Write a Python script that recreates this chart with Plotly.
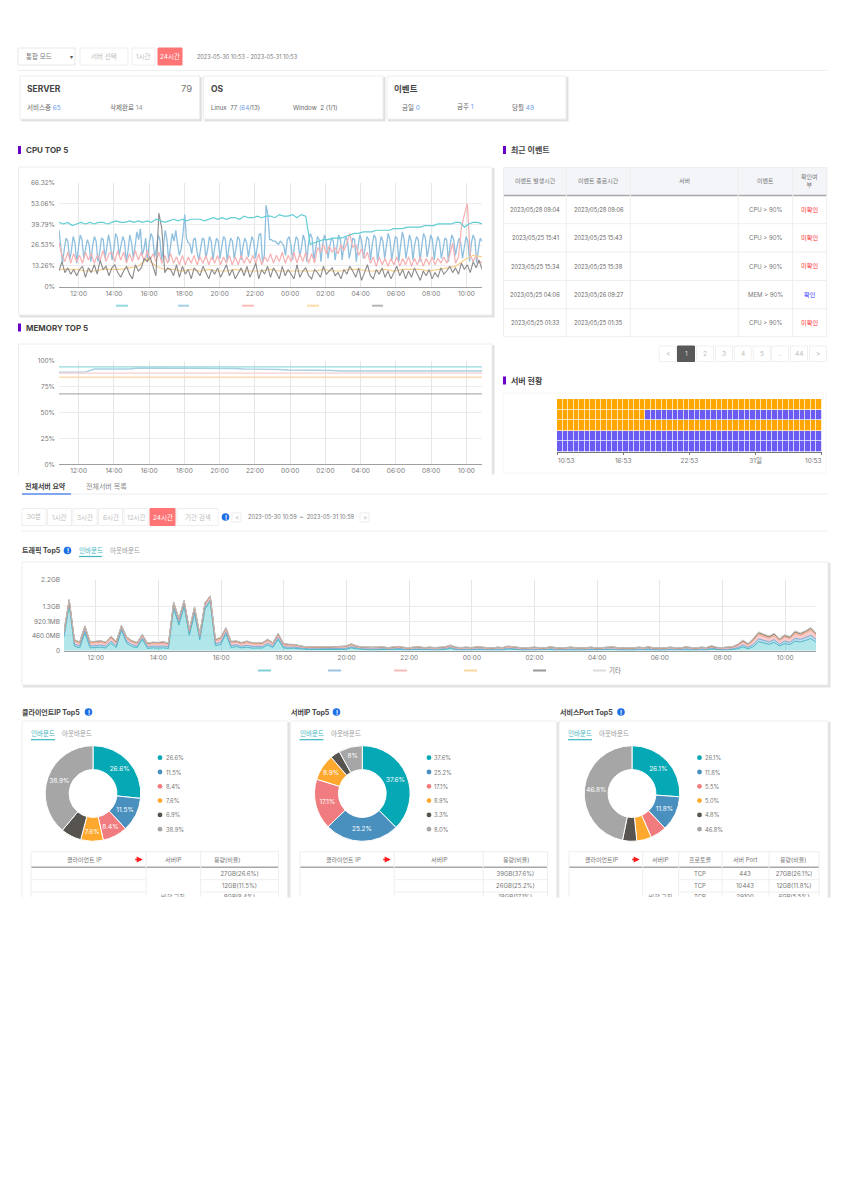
import pandas as pd
import plotly.graph_objects as go

W = 843
H = 1193
FONT = "Inter, 'Noto Sans CJK KR', sans-serif"

# CPU TOP 5 (percent), each series sampled on its own even grid over the 24 hours
cpu_teal = [41,40,41,39, 40,41,40,41, 40,41,41,40, 41,42,41,41, 42,41,42,41, 42,41,43,42,
            41,42,43,42, 43,42,43,43, 43,42,43,44, 43,44,43,44, 44,43,45,44, 44,45,44,45,
            45,44,46,45, 45,46,44,46, 45,27,28,29, 30,30,31,31, 31,32,33,34, 34,35,35,35,
            36,36,36,36, 37,37,37,38, 38,38,38,39, 39,39,40,40, 40,40,41,41, 38,40,41,41, 40]
cpu_blue = [36,24,15,24,31,29,17,23,32,28,
            15,25,33,30,18,24,30,27,16,26,
            32,29,16,22,31,30,18,25,33,27,
            17,24,34,31,20,26,32,29,16,23,
            33,28,18,26,35,30,37,20,24,31,
            16,28,34,31,19,24,33,30,17,25,
            36,30,16,26,34,29,36,27,20,24,
            33,46,31,28,27,21,30,31,22,17,
            25,31,30,18,24,32,29,17,25,31,
            29,18,26,32,30,16,25,31,29,18,
            24,32,30,17,26,31,28,19,26,32,
            29,18,25,33,34,15,20,52,46,30,
            30,29,29,28,27,29,28,26,20,30,
            32,27,17,26,32,30,19,25,33,29,
            16,28,34,31,17,24,32,30,16,27,
            33,29,18,26,31,29,17,25,33,30,
            17,27,32,29,18,24,31,30,16,26,
            33,29,18,25,32,30,17,27,33,31,
            16,25,32,29,18,26,34,30,17,24,
            32,31,16,26,35,30,18,25,33,29,
            17,27,32,30,16,26,34,31,19,25,
            33,30,17,26,32,29,18,24,31,30,
            16,27,33,30,20,26,31,28,18,25,
            32,29,16,28,33,30,15,24,31,29]
cpu_pink = [28,20,16,22,15,21, 16,20,15,22,17,21, 15,20,17,23,16,21, 22,16,23,17,22,15,
            21,16,23,17,22,16, 23,17,21,16,22,15, 20,15,21,15,19,14, 20,14,19,15,20,14,
            19,15,20,14,19,15, 20,14,19,15,20,14, 19,14,20,15,19,15, 20,15,21,14,19,16,
            21,15,20,16,22,15, 20,16,22,15,21,16, 22,15,21,15,25,22, 27,21,26,22,25,21,
            27,23,28,34,25,27, 20,24,18,22,15,19, 13,19,14,18,13,18, 14,19,13,18,14,19,
            13,18,14,19,13,18, 14,19,14,18,15,19, 15,20,28,15,19,38, 46,53,20,16,20,15, 16]
cpu_orange = [11,11,11,10,10,11,11,11,12,13,
              18,13,11,11,10,11,10,11,10,10,
              11,10,10,10,11,10,10,10,10,10,
              11,10,10,11,11,10,10,11,10,11,
              11,11,10,11,12,13,17,20,19]
cpu_grey = [10,16,9,12,8,11, 7,11,13,6,12,9, 14,8,17,11,13,7, 12,14,9,6,10,13,
            8,5,14,10,12,18, 16,19,13,7,47,37, 9,12,11,7,14,6, 13,8,11,5,12,10,
            7,13,9,5,11,8, 12,6,10,14,7,11, 5,9,12,7,13,6, 10,15,5,11,8,13,
            6,12,9,5,13,7, 11,8,5,14,6,10, 12,7,5,11,9,6, 13,8,10,12,7,9,
            5,11,8,13,10,6, 12,4,9,14,7,5, 11,8,12,6,10,5, 9,13,7,11,5,10,
            6,12,8,4,10,7, 11,5,9,6,12,8, 10,13,9,12,8,15, 11,14,9,16,12,17, 11]
cpu_ticks = [0, 13.26, 26.53, 39.79, 53.06, 66.32]
cpu_tick_text = ["0%", "13.26%", "26.53%", "39.79%", "53.06%", "66.32%"]

# MEMORY TOP 5 (percent)
mem_teal = [94,94,94,94,94,94,94,94,94,94,94,94,94]
mem_blue = [89,89,89,89,92,92,92,92,92,93,93,93,93,93,93,93,93,93,92.5,92.5,92.5,92,92,92,91.5,91.5,
            91,91,91,90.5,90.5,90.5,90,90,90,90,90,90,90,90,90,90,90,90,90,90,90,90,90]
mem_pink = [88,88,88,88,88,88,88,88,88,88,88,88,88]
mem_orange = [84,84,84,84,84,84,84,84,84,84,84,84,84]
mem_grey = [68,68,68,68,68,68,68,68,68,68,68,68,68]
mem_ticks = [0, 25, 50, 75, 100]

# 서버 현황 (1 = orange, 2 = purple), top row first
status_rows = [
    [1] * 48,
    [1] * 16 + [2] * 32,
    [1] * 48,
    [2] * 48,
    [2] * 48,
]
status_ticks = [-0.5, 11.5, 23.5, 35.5, 47.5]
status_labels = ["", "16:53", "22:53", "31일", ""]

# 트래픽 Top5 (MB), 10 minute steps
in_teal = [430,1430,140,90,560,90, 100,110,85,230,100,640, 240,130,90,350,70,90,
           80,90,70,1330,800,1380, 480,1150,340,1300,1530,160, 190,520,100,130,90,110,
           80,90,85,180,100,350, 90,70,80,60,40,35, 40,35,45,40,30,35,
           45,90,60,40,35,30, 35,40,30,35,45,30, 25,35,40,30,35,30,
           30,40,75,35,30,35, 30,40,35,30,25,35, 30,55,40,30,25,30,
           35,30,25,40,30,25, 30,35,30,25,30,35, 25,30,35,40,30,25,
           30,25,35,30,40,25, 30,25,35,30,25,40, 30,25,35,30,50,30,
           30,25,35,60,120,60, 130,280,240,200,260,150, 220,190,300,270,320,380, 270]
in_blue = [60,50,65,60,70,65, 60,65,60,70,60,45, 60,60,55,50,50,55,
           55,60,50,60,70,60, 60,70,60,60,55,60, 70,60,60,55,50,60,
           55,50,50,55,45,60, 40,40,35,30,25,25, 20,25,20,20,25,25,
           30,35,25,20,20,18, 20,22,18,20,25,20, 18,20,22,18,20,18,
           18,22,28,20,18,20, 18,22,20,18,15,20, 18,24,22,18,15,18,
           20,18,15,22,18,15, 18,20,18,15,18,20, 15,18,20,22,18,15,
           18,15,20,18,22,15, 18,15,20,18,15,22, 20,15,20,18,25,20,
           18,20,25,40,60,45, 70,90,80,75,85,60, 80,70,90,85,95,100, 90]
in_pink = [80,75,85,80,90,80, 80,85,75,90,80,60, 80,75,70,65,70,75,
           75,80,70,80,85,80, 85,90,80,85,80,80, 95,85,80,75,70,80,
           75,70,70,75,60,80, 60,55,50,45,40,40, 35,40,35,35,40,38,
           45,55,40,35,35,30, 35,35,30,35,40,35, 30,35,35,30,35,30,
           30,35,42,35,30,35, 30,35,35,30,28,35, 30,38,35,30,28,30,
           35,30,28,35,30,28, 30,35,30,28,30,35, 28,30,35,35,30,28,
           30,28,35,30,35,28, 30,28,35,30,28,35, 30,28,35,30,40,32,
           30,35,40,60,90,70, 110,130,120,110,120,100, 120,110,140,120,130,150, 120]
in_orange = [35,30,35,32,38,35, 35,38,32,38,35,28, 35,32,30,28,30,32,
             32,35,30,35,38,35, 35,40,35,38,35,35, 40,38,35,32,30,35,
             32,30,30,32,28,35, 28,25,22,20,18,18, 15,18,15,15,18,16,
             20,25,18,15,15,14, 15,16,14,15,18,15, 14,15,16,14,15,14,
             14,16,20,15,14,15, 14,16,15,14,13,15, 14,18,16,14,13,14,
             15,14,13,16,14,13, 14,15,14,13,14,15, 13,14,15,16,14,13,
             14,13,15,14,16,13, 14,13,15,14,13,16, 14,13,15,14,18,15,
             14,16,18,25,35,30, 40,45,42,40,42,35, 40,38,45,42,45,50, 42]
in_grey = [12,10,12,10,14,12, 12,12,10,14,12,10, 12,12,10,10,10,12,
           12,12,10,12,14,12, 12,14,12,12,10,12, 14,12,12,10,10,12,
           10,10,10,12,10,12, 8,8,7,6,6,6, 5,6,5,5,6,6,
           7,8,6,5,5,5, 5,6,5,5,6,5, 5,5,6,5,5,5,
           5,6,7,5,5,5, 5,6,5,5,4,5, 5,6,5,5,4,5,
           5,5,4,6,5,4, 5,5,5,4,5,5, 4,5,5,6,5,4,
           5,4,5,5,6,4, 5,4,5,5,4,6, 5,4,5,5,6,5,
           5,5,6,8,10,8, 12,14,12,12,12,10, 12,11,14,12,14,15, 12]
in_etc = [8,6,8,7,9,8, 8,8,7,9,8,6, 8,8,7,6,7,8,
          8,8,7,8,9,8, 8,9,8,8,7,8, 9,8,8,7,7,8,
          7,7,7,8,6,8, 6,5,5,4,4,4, 4,4,4,4,4,4,
          5,5,4,4,4,3, 4,4,3,4,4,4, 3,4,4,3,4,3,
          3,4,5,4,3,4, 3,4,4,3,3,4, 3,4,4,3,3,3,
          4,3,3,4,3,3, 3,4,3,3,3,4, 3,3,4,4,3,3,
          3,3,4,3,4,3, 3,3,4,3,3,4, 3,3,4,3,25,6,
          3,4,6,10,20,15, 25,30,28,25,30,20, 35,25,35,30,30,35, 25]
traffic_ticks = [0, 460, 920.1, 1380, 2208]
traffic_tick_text = ["0", "460.0MB", "920.1MB", "1.3GB", "2.2GB"]

# donuts
pie_colors = ["#05a8b5", "#4a90bf", "#f07c7f", "#ffa82e", "#57534f", "#a6a6a6"]
client_vals = [26.6, 11.5, 8.4, 7.6, 6.9, 38.9]
client_labels = ["26.6%", "11.5%", "8.4%", "7.6%", "", "38.9%"]
client_legend = ["26.6%", "11.5%", "8.4%", "7.6%", "6.9%", "38.9%"]
server_vals = [37.6, 25.2, 17.1, 8.9, 3.3, 8.0]
server_labels = ["37.6%", "25.2%", "17.1%", "8.9%", "", "8%"]
server_legend = ["37.6%", "25.2%", "17.1%", "8.9%", "3.3%", "8.0%"]
port_vals = [26.1, 11.8, 5.5, 5.0, 4.8, 46.8]
port_labels = ["26.1%", "11.8%", "", "", "", "46.8%"]
port_legend = ["26.1%", "11.8%", "5.5%", "5.0%", "4.8%", "46.8%"]

# recent events table
event_starts = ["2023/05/28 09:04", "2023/05/25 15:41", "2023/05/25 15:34", "2023/05/25 04:06", "2023/05/25 01:33"]
event_ends = ["2023/05/28 09:06", "2023/05/25 15:43", "2023/05/25 15:38", "2023/05/26 09:27", "2023/05/25 01:35"]
event_names = ["CPU > 90%", "CPU > 90%", "CPU > 90%", "MEM > 90%", "CPU > 90%"]
event_checks = ["미확인", "미확인", "미확인", "확인", "미확인"]
pages = ["<", "1", "2", "3", "4", "5", "..", "44", ">"]

shapes = []
notes = []


def dx(a, b):
    return [a / W, b / W]


def dy(top, bottom):
    return [1 - bottom / H, 1 - top / H]


def txt(x, y, s, size=7, color="#666666", anchor="left"):
    # annotations carry about 2px of padding, take it back at the text edges
    shift = {"left": -2, "right": 2, "center": 0}[anchor]
    notes.append(dict(x=x / W, y=1 - y / H, xref="paper", yref="paper", text=s, showarrow=False, xshift=shift,
                      xanchor=anchor, yanchor="middle", font=dict(size=size, color=color, family=FONT)))


def rect(x0, y0, x1, y1, fill="#ffffff", line="rgba(0,0,0,0)", width=1):
    shapes.append(dict(type="rect", xref="paper", yref="paper", layer="below",
                       x0=x0 / W, x1=x1 / W, y0=1 - y0 / H, y1=1 - y1 / H,
                       fillcolor=fill, line=dict(color=line, width=width)))


def hline(x0, x1, y, color="#eeeeee", width=1):
    shapes.append(dict(type="line", xref="paper", yref="paper", layer="below",
                       x0=x0 / W, x1=x1 / W, y0=1 - y / H, y1=1 - y / H, line=dict(color=color, width=width)))


def vline(x, y0, y1, color="#eeeeee", width=1):
    shapes.append(dict(type="line", xref="paper", yref="paper", layer="below",
                       x0=x / W, x1=x / W, y0=1 - y0 / H, y1=1 - y1 / H, line=dict(color=color, width=width)))


def card(x0, y0, x1, y1):
    rect(x0 + 1, y0 + 1, x1 + 3, y1 + 3, fill="rgba(0,0,0,0.05)")
    rect(x0 + 1, y0 + 1, x1 + 2, y1 + 2, fill="rgba(0,0,0,0.07)")
    rect(x0, y0, x1, y1, fill="#ffffff", line="#eeeeee")


def button(x0, x1, y0, y1, label, active=False):
    if active:
        rect(x0, y0, x1, y1, fill="#ff7474", line="#ff7474")
        txt((x0 + x1) / 2, (y0 + y1) / 2, label, 6.5, "#ffffff", "center")
    else:
        rect(x0, y0, x1, y1, fill="#ffffff", line="#eeeeee")
        txt((x0 + x1) / 2, (y0 + y1) / 2, label, 6.5, "#bdbdbd", "center")


def heading(x, y, label):
    rect(x, y - 4, x + 3, y + 4, fill="#6a00c8")
    txt(x + 8, y, "<b>" + label + "</b>", 8, "#444444")


def info_dot(x, y):
    shapes.append(dict(type="circle", xref="paper", yref="paper", x0=(x - 3.8) / W, x1=(x + 3.8) / W,
                       y0=1 - (y - 3.8) / H, y1=1 - (y + 3.8) / H, fillcolor="#1f6fe5", line=dict(width=0)))
    txt(x, y, "<b>!</b>", 6, "#ffffff", "center")


def swatch(x0, x1, y, color):
    hline(x0, x1, y, color, 2)


def red_arrow(x, y):
    notes.append(dict(x=x / W, y=1 - y / H, xref="paper", yref="paper", ax=-9, ay=0, text="", showarrow=True,
                      arrowcolor="#ff1a1a", arrowwidth=1.5, arrowhead=2, arrowsize=0.8))


def series_x(values, start, end):
    return pd.date_range(start, end, periods=len(values))


fig = go.Figure()

# top controls
rect(18, 48, 75, 65, line="#e8e8e8")
txt(26, 56.5, "통합 모드", 6.5, "#777777")
txt(71, 57, "▾", 6, "#555555", "center")
button(80, 128, 48, 65, "서버 선택")
button(132, 155, 48, 65, "1시간")
button(158, 182, 48, 65, "24시간", True)
txt(197, 57, "2023-05-30 10:53 - 2023-05-31 10:53", 5.5, "#777777")
hline(18, 827, 70.5)

# summary cards
card(20, 76, 199.5, 119)
card(203.5, 76, 383, 119)
card(387, 76, 566, 119)
txt(27, 89, "<b>SERVER</b>", 8.5, "#444444")
txt(192, 89, "79", 9.5, "#777777", "right")
txt(27, 107, "서비스중 <span style='color:#6d9eeb'>65</span>", 6.5)
txt(110, 107, "삭제완료 <span style='color:#999999'>14</span>", 6.5)
txt(211, 89, "<b>OS</b>", 8.5, "#444444")
txt(211, 107, "Linux  77 <span style='color:#6d9eeb'>(64</span>/13)", 6.2)
txt(293, 107, "Window  2 (1/1)", 6.2)
txt(394, 89, "<b>이벤트</b>", 8.5, "#444444")
txt(402, 107, "금일 <span style='color:#6d9eeb'>0</span>", 6.5)
txt(457, 107, "금주 <span style='color:#6d9eeb'>1</span>", 6.5)
txt(512, 107, "당월 <span style='color:#6d9eeb'>49</span>", 6.5)

heading(18, 150, "CPU TOP 5")
heading(503, 150, "최근 이벤트")
heading(18, 327.5, "MEMORY TOP 5")
heading(503, 380.5, "서버 현황")

card(18.5, 167, 492, 315)
card(18.5, 344, 492, 478)
# the memory card runs under the lower dashboard, nothing of its bottom edge shows
rect(14, 474.5, 843, 484)

for x0, x1, c in [(116, 128, "#8fd8dd"), (178, 189, "#a8cfe8"), (242, 254, "#f8bcbc"), (307, 319, "#fcdca6"), (372, 383, "#b5b5b5")]:
    swatch(x0, x1, 305.7, c)

# CPU lines
start_cpu, end_cpu = "2023-05-30 10:53", "2023-05-31 10:53"
for vals, c, w in [(cpu_blue, "#8ebfdf", 1.3), (cpu_pink, "#f6b0b2", 1.2), (cpu_orange, "#f9cf8c", 1.2),
                   (cpu_grey, "#8a8a8a", 1.1), (cpu_teal, "#62cdd3", 1.2)]:
    fig.add_trace(go.Scatter(x=series_x(vals, start_cpu, end_cpu), y=vals, mode="lines", line=dict(color=c, width=w),
                             showlegend=False, xaxis="x", yaxis="y", cliponaxis=False))

# memory lines
for vals, c in [(mem_teal, "#93d9dd"), (mem_blue, "#a8cfe4"), (mem_pink, "#f9cfcf"), (mem_orange, "#fbdcb0"), (mem_grey, "#b0b0b0")]:
    fig.add_trace(go.Scatter(x=series_x(vals, start_cpu, end_cpu), y=vals, mode="lines", line=dict(color=c, width=1.4),
                             showlegend=False, xaxis="x2", yaxis="y2"))

# recent events table
col_x = [503.5, 566.3, 630.3, 738.3, 792.7, 826.7]
row_y = [195.5, 223.7, 252, 280.5, 308.7, 336.7]
rect(503.5, 167.5, 826.7, 195.5, fill="#f4f5f9", line="#eeeeee")
hline(503.5, 826.7, 195.5, "#a8a8a8", 1.4)
for y in row_y[1:]:
    hline(503.5, 826.7, y)
for x in col_x:
    vline(x, 167.5, 336.7)
for x, label in zip([535, 598.5, 684.5, 765.5], ["이벤트 발생시간", "이벤트 종료시간", "서버", "이벤트"]):
    txt(x, 181, label, 6, "#777777", "center")
txt(809.7, 181, "확인여<br>부", 6, "#777777", "center")
for i in range(5):
    y = (row_y[i] + row_y[i + 1]) / 2
    txt(535, y, event_starts[i], 5.7, "#666666", "center")
    txt(598.5, y, event_ends[i], 5.7, "#666666", "center")
    txt(765.5, y, event_names[i], 6, "#777777", "center")
    txt(809.7, y, event_checks[i], 6.2, "#3a3aff" if event_checks[i] == "확인" else "#ff2a2a", "center")

# pagination
for x, p in zip([667.7, 686, 705, 724, 742.7, 761.7, 780, 799, 818], pages):
    if p == "1":
        rect(x - 8.5, 346, x + 8.5, 361.5, fill="#595959", line="#595959")
        txt(x, 353.7, p, 6.5, "#dddddd", "center")
    else:
        rect(x - 8.5, 346, x + 8.5, 361.5, line="#f0f0f0")
        txt(x, 353.7, p, 6.5, "#bbbbbb", "center")

# server status heatmap
rect(503, 393, 826, 473, line="#f6f6f6")
fig.add_trace(go.Heatmap(z=status_rows, zmin=1, zmax=2, colorscale=[[0, "#ffa600"], [1, "#6a5cf2"]], showscale=False,
                         xgap=0.7, ygap=0.7, xaxis="x4", yaxis="y4"))
txt(557.7, 460.7, "10:53", 6.5, "#777777")
txt(821.7, 460.7, "10:53", 6.5, "#777777", "right")

# lower dashboard tabs and buttons
txt(25, 486, "<b>전체서버 요약</b>", 7, "#444444")
txt(86, 486, "전체서버 목록", 7, "#888888")
hline(22, 827, 494)
hline(22, 71, 494, "#5b8def", 1.5)
for x0, x1, label in [(22, 46, "30분"), (47.5, 71.5, "1시간"), (73, 97, "3시간"), (98.5, 122.5, "6시간"), (124, 148, "12시간"), (177, 218, "기간 검색")]:
    button(x0, x1, 508.5, 525.5, label)
button(150, 175, 508.5, 525.5, "24시간", True)
info_dot(225.5, 517)
button(232, 241, 513, 522, "<")
txt(247.5, 517, "2023-05-30 10:59  ~  2023-05-31 10:59", 5.6, "#777777")
button(360, 369, 513, 522, ">")
hline(22, 827, 531)
txt(22, 550.5, "<b>트래픽 Top5</b>", 7, "#444444")
info_dot(67.5, 550.5)
txt(79, 550, "인바운드", 6.5, "#3fb5c0")
hline(79, 102, 556.5, "#3fb5c0", 1.2)
txt(110, 550, "아웃바운드", 6.5, "#999999")

# traffic stacked area
card(22, 562, 828, 685)
start_in, end_in = "2023-05-30 10:59", "2023-05-31 10:59"
for vals, line_c, fill_c in [(in_teal, "#3fb5c0", "rgba(70,195,205,0.42)"), (in_blue, "#6fa8d0", "rgba(140,190,225,0.55)"),
                             (in_pink, "#f2a0a0", "rgba(248,190,190,0.75)"), (in_orange, "#e39a55", "rgba(252,205,150,0.8)"),
                             (in_grey, "#7d7d7d", "rgba(150,150,150,0.4)"), (in_etc, "#c8c8c8", "rgba(220,220,220,0.5)")]:
    fig.add_trace(go.Scatter(x=series_x(vals, start_in, end_in), y=vals, mode="lines", stackgroup="traffic",
                             line=dict(color=line_c, width=0.9), fillcolor=fill_c, showlegend=False, xaxis="x3", yaxis="y3"))
for x0, x1, c in [(258, 271, "#7fd0d6"), (328, 341, "#9cc3e0"), (394, 407, "#f8bcbc"), (464, 477, "#fcd6a0"), (533, 546, "#999999"), (593, 606, "#dddddd")]:
    swatch(x0, x1, 670.5, c)
txt(609, 670, "기타", 6.5, "#777777")

# donut panels
panels = [
    (22, 287.5, 22, "클라이언트IP Top5", 88.5, 93, 160, client_vals, client_labels, client_legend),
    (290.5, 556.7, 291, "서버IP Top5", 336.5, 362.3, 429, server_vals, server_labels, server_legend),
    (559, 828, 560, "서비스Port Top5", 621, 632, 699.5, port_vals, port_labels, port_legend),
]
for x0, x1, title_x, title, dot_x, cx, lx, vals, labels, legend in panels:
    txt(title_x, 712, "<b>" + title + "</b>", 7, "#444444")
    info_dot(dot_x, 712)
    card(x0, 721, x1, 900)
    txt(x0 + 9, 733.5, "인바운드", 6.5, "#3fb5c0")
    hline(x0 + 9, x0 + 33, 739.7, "#3fb5c0", 1.2)
    txt(x0 + 40, 733.5, "아웃바운드", 6.5, "#999999")
    r = 47.8
    fig.add_trace(go.Pie(values=vals, text=labels, textinfo="text", hole=0.5, sort=False, direction="clockwise",
                         textposition="inside", insidetextorientation="horizontal",
                         marker=dict(colors=pie_colors, line=dict(color="#ffffff", width=1)),
                         textfont=dict(size=6.5, color="#ffffff", family=FONT), showlegend=False,
                         domain=dict(x=dx(cx - r, cx + r), y=dy(793.5 - r, 793.5 + r))))
    for i, label in enumerate(legend):
        y = 757.7 + i * 14.3
        shapes.append(dict(type="circle", xref="paper", yref="paper", x0=(lx - 2.4) / W, x1=(lx + 2.4) / W,
                           y0=1 - (y - 2.4) / H, y1=1 - (y + 2.4) / H, fillcolor=pie_colors[i], line=dict(width=0)))
        txt(lx + 5.5, y, label, 5.8, "#777777")

# tables under the donuts, body text goes through the clipped text layer
t_x, t_y, t_s = [], [], []


def cell(x, y, s):
    t_x.append(x)
    t_y.append(y)
    t_s.append(s)


# last item: column spans that have row lines (the other columns are merged cells)
tables = [
    (31, 278.5, [146, 200.7], [(84.7, "클라이언트 IP"), (173, "서버IP"), (227, "용량(비율)")], 138.7, [(31, 146), (200.7, 278.5)]),
    (300, 547.5, [394.3, 483.3], [(343, "클라이언트 IP"), (439, "서버IP"), (515.7, "용량(비율)")], 386.7, [(394.3, 547.5)]),
    (569, 819, [642.7, 678.7, 722, 769], [(601.7, "클라이언트IP"), (660.5, "서버IP"), (700, "프로토콜"), (745, "서버 Port"), (793, "용량(비율)")], 635.7, [(678.7, 819)]),
]
for x0, x1, cols, heads, arrow_x, spans in tables:
    hline(x0, x1, 851.7, "#eeeeee")
    hline(x0, x1, 867.3, "#a8a8a8", 1.4)
    for y in [879.7, 892]:
        for a, b in spans:
            hline(a, b, y)
    for x in [x0, x1] + cols:
        vline(x, 851.7, 897)
    for x, label in heads:
        txt(x, 859.5, label, 6, "#777777", "center")
    red_arrow(arrow_x + 4, 859.5)
rect(20, 897.5, 835, 905)

for y, s in zip([874, 886, 897.5], ["27GB(26.6%)", "12GB(11.5%)", "8GB(8.4%)"]):
    cell(239.5, y, s)
for y, s in zip([874, 886, 897.5], ["39GB(37.6%)", "26GB(25.2%)", "18GB(17.1%)"]):
    cell(515.4, y, s)
for y, a, b, s in zip([874, 886, 897.5], ["TCP", "TCP", "TCP"], ["443", "10443", "29100"], ["27GB(26.1%)", "12GB(11.8%)", "6GB(5.5%)"]):
    cell(700, y, a)
    cell(745, y, b)
    cell(794, y, s)
cell(173, 897, "비할 규칙")
cell(660.5, 897, "비할 규칙")
fig.add_trace(go.Scatter(x=t_x, y=t_y, text=t_s, mode="text", textposition="middle center", showlegend=False,
                         textfont=dict(size=6, color="#777777", family=FONT), xaxis="x5", yaxis="y5", cliponaxis=True))


def time_axis(domain, anchor, start, end):
    return dict(domain=domain, anchor=anchor, type="date", range=[start, end], tick0="2023-05-30 12:00", dtick=7200000,
                tickformat="%H:%M", showgrid=True, gridcolor="#e6e6e6", gridwidth=1, zeroline=False, showline=True,
                linecolor="#a0a0a0", linewidth=1.4, ticks="", tickfont=dict(size=6.5, color="#777777", family=FONT),
                fixedrange=True, automargin=False)


def value_axis(domain, anchor, top, ticks, text=None):
    return dict(domain=domain, anchor=anchor, range=[0, top], tickvals=ticks, ticktext=text, showgrid=True, gridcolor="#ececec",
                gridwidth=1.2, zeroline=False, showline=False, ticks="", ticklabelstandoff=3,
                tickfont=dict(size=6.5, color="#777777", family=FONT), fixedrange=True, automargin=False)


fig.update_layout(
    width=W, height=H, margin=dict(l=0, r=0, t=0, b=0, autoexpand=False), paper_bgcolor="#ffffff", plot_bgcolor="rgba(0,0,0,0)",
    showlegend=False, shapes=shapes, annotations=notes,
    xaxis=time_axis(dx(59, 482), "y", start_cpu, end_cpu),
    yaxis=value_axis(dy(182.7, 286.7), "x", 66.32, cpu_ticks, cpu_tick_text),
    xaxis2=time_axis(dx(59, 482), "y2", start_cpu, end_cpu),
    yaxis2=value_axis(dy(360.7, 464.3), "x2", 100, mem_ticks, ["0%", "25%", "50%", "75%", "100%"]),
    xaxis3=time_axis(dx(64, 816), "y3", start_in, end_in),
    yaxis3=value_axis(dy(580, 650.7), "x3", 2208, traffic_ticks, traffic_tick_text),
    xaxis4=dict(domain=dx(557, 821.7), anchor="y4", range=[-0.5, 47.5], tickvals=status_ticks, ticktext=status_labels,
                showgrid=False, zeroline=False, showline=True, linecolor="#777777", linewidth=1, ticks="outside", ticklen=2,
                tickcolor="#777777", tickfont=dict(size=6.5, color="#777777", family=FONT), fixedrange=True, automargin=False),
    yaxis4=dict(domain=dy(399, 452), anchor="x4", autorange="reversed", visible=False, fixedrange=True, automargin=False),
    xaxis5=dict(domain=[0, 1], anchor="y5", range=[0, W], visible=False, fixedrange=True, automargin=False),
    yaxis5=dict(domain=dy(0, 897), anchor="x5", range=[897, 0], visible=False, fixedrange=True, automargin=False),
)

fig.write_html("out.html", config=dict(displayModeBar=False), post_script="document.body.style.margin='0';")
